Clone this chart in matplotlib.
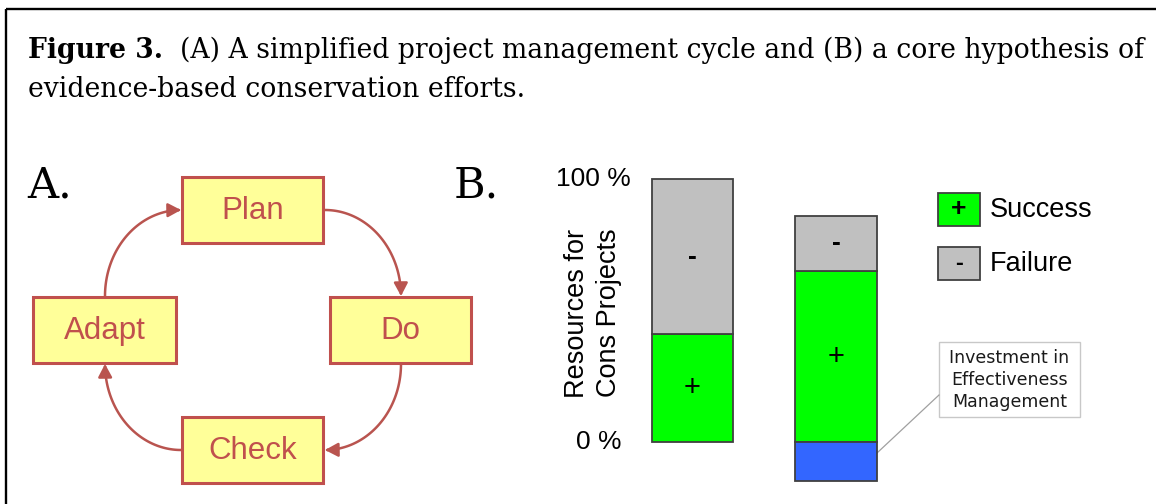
import numpy as np
import matplotlib
matplotlib.use("Agg")
import matplotlib.pyplot as plt
from matplotlib.patches import Rectangle, FancyArrowPatch
from matplotlib.path import Path

# ---------------- data ----------------
caption_bold = "Figure 3."
caption_line1 = "(A) A simplified project management cycle and (B) a core hypothesis of"
caption_line2 = "evidence-based conservation efforts."

cycle_steps = ["Plan", "Do", "Check", "Adapt"]

bar_positions = [0, 1]
success = [41, 65]          # % of resources, green
failure = [59, 21]          # % of resources, gray, stacked on success
investment = [0, 15]        # % invested in effectiveness management, below 0
ytick_values = [0, 100]
ytick_labels = ["0 %", "100 %"]
ylabel_text = "Resources for\nCons Projects"
legend_labels = ["Success", "Failure"]
legend_marks = ["+", "-"]
annotation_text = "Investment in\nEffectiveness\nManagement"

# ---------------- styles ----------------
SERIF = "DejaVu Serif"
SANS = "Liberation Sans"
GREEN = "#00FF00"
GRAY = "#C0C0C0"
BLUE = "#3366FF"
BAR_EDGE = "#404040"
BOX_FACE = "#FFFF99"
BOX_EDGE = "#C0504D"
BOX_TEXT = "#C0504D"
ARROW_COL = "#B9544F"

W, H = 1156, 504
fig = plt.figure(figsize=(W / 100, H / 100), dpi=100)
fig.patch.set_facecolor("white")
ax0 = fig.add_axes([0, 0, 1, 1])
ax0.set_xlim(0, W)
ax0.set_ylim(H, 0)
ax0.axis("off")

# frame (top and left)
ax0.plot([6, W], [9, 9], color="black", lw=1.7, solid_capstyle="butt")
ax0.plot([6, 6], [9, H], color="black", lw=1.7, solid_capstyle="butt")

# ---------------- caption ----------------
renderer = fig.canvas.get_renderer()
x0, xend = 28, 1142


def draw_caption(fs):
    tb = ax0.text(x0, 58, caption_bold, fontsize=fs, fontweight="bold",
                  family=SERIF, va="baseline", ha="left")
    bb = tb.get_window_extent(renderer)
    tr = ax0.text(bb.x1 + fs * 0.9, 58, caption_line1, fontsize=fs, family=SERIF,
                  va="baseline", ha="left")
    bb2 = tr.get_window_extent(renderer)
    return tb, tr, bb2.x1 - x0


fs = 20.0
for _ in range(4):
    tb, tr, width = draw_caption(fs)
    tb.remove()
    tr.remove()
    fs = fs * (xend - x0) / width
draw_caption(fs)
ax0.text(x0, 97, caption_line2, fontsize=fs, family=SERIF,
         va="baseline", ha="left")

# panel letters
ax0.text(27, 197, "A.", fontsize=31, family=SERIF, va="baseline", ha="left")
ax0.text(454, 197, "B.", fontsize=31, family=SERIF, va="baseline", ha="left")

# ---------------- panel A: cycle ----------------
boxes = {
    "Plan": (182, 177, 141, 66),
    "Do": (330, 297, 141, 66),
    "Check": (182, 417, 141, 66),
    "Adapt": (33, 297, 143, 66),
}
for name in cycle_steps:
    bx, by, bw_, bh = boxes[name]
    ax0.add_patch(Rectangle((bx, by), bw_, bh, facecolor=BOX_FACE,
                            edgecolor=BOX_EDGE, lw=2.2, zorder=3))
    ax0.text(bx + bw_ / 2, by + bh / 2 + 1, name, fontsize=22.5, family=SANS,
             color=BOX_TEXT, ha="center", va="center", zorder=4)


def quarter(cx, cy, rx, ry, sx, sy, t0, t1, n=60):
    t = np.radians(np.linspace(t0, t1, n))
    return np.column_stack([cx + sx * rx * np.cos(t), cy + sy * ry * np.sin(t)])


arcs = [
    quarter(325, 296, 76, 86, 1, -1, 90, 0),    # Plan -> Do
    quarter(325, 364, 76, 86, 1, 1, 0, 90),     # Do -> Check
    quarter(181, 364, 76, 86, -1, 1, 90, 0),    # Check -> Adapt
    quarter(181, 296, 76, 86, -1, -1, 0, 90),   # Adapt -> Plan
]
for verts in arcs:
    p = FancyArrowPatch(path=Path(verts), arrowstyle="-|>,head_length=0.6,head_width=0.32",
                        mutation_scale=13, color=ARROW_COL, lw=1.8, zorder=2)
    ax0.add_patch(p)

# ---------------- panel B: stacked bars ----------------
px_per_x = 143.5
x_center0 = 692.5
y0_px, y100_px = 442, 179
px_per_y = (y0_px - y100_px) / 100.0
xlim = (-0.8, 1.8)
ylim = (-20, 105)
left_px = x_center0 + xlim[0] * px_per_x
right_px = x_center0 + xlim[1] * px_per_x
bot_px = y0_px - ylim[0] * px_per_y
top_px = y0_px - ylim[1] * px_per_y
ax1 = fig.add_axes([left_px / W, (H - bot_px) / H, (right_px - left_px) / W,
                    (bot_px - top_px) / H])
ax1.set_xlim(*xlim)
ax1.set_ylim(*ylim)
ax1.axis("off")
ax1.patch.set_alpha(0)

bw = 0.568
succ = np.array(success, dtype=float)
fail = np.array(failure, dtype=float)
inv = np.array(investment, dtype=float)
xpos = np.array(bar_positions, dtype=float)

ax1.bar(xpos, succ, bottom=0, width=bw, color=GREEN, edgecolor=BAR_EDGE, lw=1.3)
ax1.bar(xpos, fail, bottom=succ, width=bw, color=GRAY, edgecolor=BAR_EDGE, lw=1.3)
mask = inv > 0
ax1.bar(xpos[mask], inv[mask], bottom=-inv[mask], width=bw, color=BLUE,
        edgecolor=BAR_EDGE, lw=1.3)

for xi, s, f in zip(xpos, succ, fail):
    ax1.text(xi, s / 2, "+", fontsize=21, family=SANS, ha="center", va="center")
    ax1.text(xi, s + f / 2, "-", fontsize=19, family=SANS, ha="center", va="center",
             fontweight="bold")

# y tick labels
tick_right = {0: 622, 100: 631}
for v, lab in zip(ytick_values, ytick_labels):
    xr = (tick_right[v] - x_center0) / px_per_x
    ax1.text(xr, v, lab, fontsize=19, family=SANS, ha="right", va="center")

# y label
ax0.text(593, 313, ylabel_text, rotation=90, fontsize=19.5, family=SANS,
         ha="center", va="center", multialignment="center", linespacing=1.25)

# legend
leg_y = [193, 247]
leg_colors = [GREEN, GRAY]
for yy, col, lab, mk in zip(leg_y, leg_colors, legend_labels, legend_marks):
    ax0.add_patch(Rectangle((938, yy), 42, 33, facecolor=col, edgecolor=BAR_EDGE, lw=1.3))
    ax0.text(959, yy + 16.5, mk, fontsize=19 if mk == "+" else 17, family=SANS,
             ha="center", va="center",
             fontweight="bold")
    ax0.text(990, yy + 17, lab, fontsize=19.5, family=SANS, ha="left", va="center")

# annotation box + leader line
ax0.add_patch(Rectangle((939, 342), 141, 75, facecolor="white", edgecolor="#C8C8C8", lw=1.0))
ax0.text(1009.5, 380, annotation_text, fontsize=12.5, family="DejaVu Sans",
         ha="center", va="center", multialignment="center", linespacing=1.3,
         color="#1a1a1a")
ax0.plot([877, 939], [453, 395], color="#A0A0A0", lw=0.9)

fig.savefig("out.png", dpi=100, facecolor="white")
